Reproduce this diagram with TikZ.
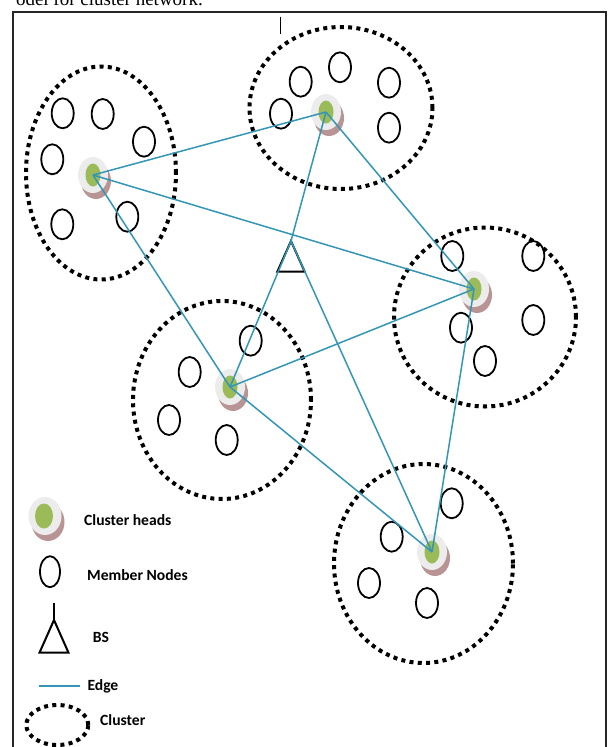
\documentclass[tikz,border=0pt]{standalone}
\usepackage{fontspec}
\setmainfont{Liberation Serif}
\newfontfamily\lgdfont{Carlito}
\usetikzlibrary{shapes.geometric}
\definecolor{edgec}{RGB}{52,150,182}
\definecolor{chgreen}{RGB}{155,187,89}
\definecolor{chhalo}{RGB}{236,236,236}
\definecolor{chshadow}{RGB}{185,148,148}
\tikzset{
  member/.style={draw=black, ellipse, line width=1.8pt, minimum width=22pt, minimum height=30pt, inner sep=0pt},
  clusterbox/.style={draw=black, ellipse, line width=4pt, dash pattern=on 4pt off 4.3pt, inner sep=0pt},
  chead/.style={fill=chgreen, ellipse, minimum width=15pt, minimum height=23pt, inner sep=0pt},
  chhalost/.style={fill=chhalo, ellipse, minimum width=30pt, minimum height=36pt, inner sep=0pt},
  chshadowst/.style={fill=chshadow, ellipse, minimum width=30pt, minimum height=36pt, inner sep=0pt, xshift=3pt, yshift=-6pt},
  edgeline/.style={draw=edgec, line width=1.5pt},
  bsst/.style={draw=black, line width=2pt, line join=miter},
  lgdtext/.style={anchor=base west, font=\lgdfont\bfseries\fontsize{15.6}{18}\selectfont, inner sep=0pt},
}
\newcommand{\chnode}[2]{%
  \node[chshadowst] at (#2) {};
  \node[chhalost] at (#2) {};
  \node[chead] (#1) at (#2) {};}
\begin{document}
\begin{tikzpicture}[x=1pt,y=-1pt]
\useasboundingbox (0,0) rectangle (608,747);
\begin{scope}
\clip (0,0) rectangle (608,747);
% caption remainder (cut off at the top edge, as in the reference)
\node[anchor=base east, inner sep=0pt, font=\fontsize{19}{22}\selectfont] (cap) at (203,5.5) {odel for cluster network.};
% frame
\draw[line width=1.5pt, black!85] (13,752) -- (13,12) -- (606,12) -- (606,752);
\draw[line width=1.5pt] (280.7,16.5) -- (280.7,33.5);

% clusters
\node[clusterbox, minimum width=150pt, minimum height=213pt] (c1) at (101,173) {};
\node[clusterbox, minimum width=183pt, minimum height=162pt] (c2) at (341,108) {};
\node[clusterbox, minimum width=182pt, minimum height=179pt] (c3) at (485,317) {};
\node[clusterbox, minimum width=178pt, minimum height=198pt] (c4) at (222,400) {};
\node[clusterbox, minimum width=179pt, minimum height=199pt] (c5) at (423.5,563.5) {};

% member nodes
\node[member] (m11) at (62.7,113.3) {};
\node[member] (m12) at (102.7,114) {};
\node[member] (m13) at (144,141.7) {};
\node[member] (m14) at (52.3,159.3) {};
\node[member] (m15) at (62.3,224.3) {};
\node[member] (m16) at (127.3,216.7) {};
\node[member] (m21) at (300.7,81.7) {};
\node[member] (m22) at (340,67.3) {};
\node[member] (m23) at (389,82.7) {};
\node[member] (m24) at (281,113.7) {};
\node[member] (m25) at (389,127.7) {};
\node[member] (m31) at (452.3,256) {};
\node[member] (m32) at (533.3,256) {};
\node[member] (m33) at (461,327.7) {};
\node[member] (m34) at (533.3,320) {};
\node[member] (m35) at (485,361) {};
\node[member] (m41) at (250.7,340.7) {};
\node[member] (m42) at (189.7,372) {};
\node[member] (m43) at (169,420) {};
\node[member] (m44) at (226.7,440) {};
\node[member] (m51) at (451.7,503.3) {};
\node[member] (m52) at (391.7,536.7) {};
\node[member] (m53) at (369,583) {};
\node[member] (m54) at (427,603) {};

% cluster heads
\chnode{ch1}{93,175}
\chnode{ch2}{326,112}
\chnode{ch3}{474,289}
\chnode{ch4}{230,387}
\chnode{ch5}{432,552}

% base station
\coordinate (bs) at (291,241);
\draw[bsst] (bs) -- ++(-13.7,30.7) -- ++(27.4,0) -- cycle;

% edges
\draw[edgeline] (ch1.center) -- (ch2.center);
\draw[edgeline] (ch1.center) -- (ch3.center);
\draw[edgeline] (ch1.center) -- (ch4.center);
\draw[edgeline] (ch2.center) -- (ch3.center);
\draw[edgeline] (ch2.center) -- (bs);
\draw[edgeline] (bs) -- (ch4.center);
\draw[edgeline] (bs) -- (ch5.center);
\draw[edgeline] (ch3.center) -- (ch4.center);
\draw[edgeline] (ch3.center) -- (ch5.center);
\draw[edgeline] (ch4.center) -- (ch5.center);

% legend
\node[chshadowst, minimum width=33pt, minimum height=38pt] at (45,516) {};
\node[chhalost, minimum width=33pt, minimum height=38pt] at (45,516) {};
\node[chead, minimum width=18pt, minimum height=25pt] (lch) at (44,516) {};
\node[lgdtext] (t1) at (84,525.7) {Cluster heads};

\node[member, minimum width=20pt, minimum height=31pt] (lm) at (50,571.7) {};
\node[lgdtext] (t2) at (87,580) {Member Nodes};

\coordinate (lbs) at (54,620);
\coordinate (lbstop) at (54,602.5);
\draw[bsst] (lbstop) -- (lbs);
\draw[bsst] (lbs) -- ++(-14.5,32.7) -- ++(29,0) -- cycle;
\node[lgdtext] (t3) at (92.7,642) {BS};

\coordinate (le1) at (39.3,686);
\coordinate (le2) at (80,686);
\draw[edgeline] (le1) -- (le2);
\node[lgdtext] (t4) at (87.3,690.5) {Edge};

\node[clusterbox, minimum width=62pt, minimum height=40pt] (lc) at (57.3,725) {};
\node[lgdtext] (t5) at (100,725.7) {Cluster};
\end{scope}
\end{tikzpicture}
\end{document}
